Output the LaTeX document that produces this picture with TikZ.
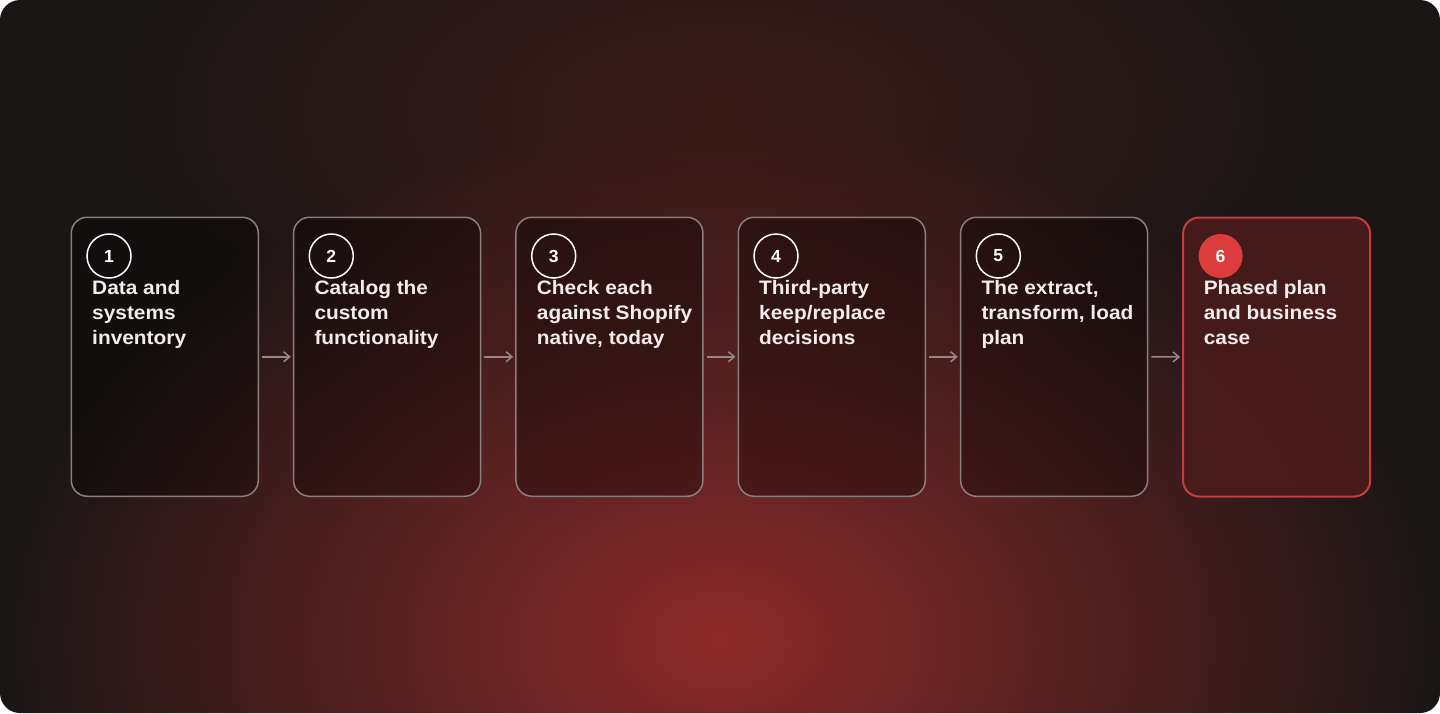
\documentclass[tikz,border=0pt]{standalone}
\usepackage{fontspec}
\setmainfont{Liberation Sans}
\newfontfamily\stepfont[FakeStretch=1.07]{Liberation Sans}
\usetikzlibrary{arrows.meta, fadings}
\tikzfading[name=glowfade, inner color=transparent!0, outer color=transparent!100]
\tikzset{
    glow/.style={path fading=glowfade, fit fading=true},
    stepbox/.style={draw=boxLine, line width=1.5pt, rounded corners=16pt, fill=black, fill opacity=0.32, text opacity=1,
        minimum width=187pt, minimum height=279pt, anchor=north west},
    lastbox/.style={stepbox, draw=lastLine, line width=2pt, fill=lastFill, fill opacity=0.9},
    badge/.style={circle, draw=white, line width=1.5pt, minimum size=44pt, inner sep=0pt, text=white,
        font=\fontsize{17.5}{17.5}\selectfont\bfseries},
    lastbadge/.style={badge, draw=none, fill=badgeRed},
    steptext/.style={anchor=north west, inner sep=0pt, align=left, text=textWhite,
        font=\stepfont\fontsize{19.5}{25}\selectfont\bfseries},
    flow/.style={draw=arrowGray, line width=1.5pt, -{Straight Barb[length=6pt, width=10pt, line width=1.5pt]}}
}
\begin{document}
\begin{tikzpicture}[x=1pt, y=-1pt]
    % Define colors
    \definecolor{bgDark}{RGB}{27,22,22}
    \definecolor{glowRed}{RGB}{142,43,43}
    \definecolor{topGlow}{RGB}{58,28,25}
    \definecolor{boxLine}{RGB}{140,126,126}
    \definecolor{arrowGray}{RGB}{150,135,135}
    \definecolor{lastLine}{RGB}{200,60,60}
    \definecolor{lastFill}{RGB}{74,27,28}
    \definecolor{badgeRed}{RGB}{220,60,60}
    \definecolor{textWhite}{RGB}{242,236,236}
    \useasboundingbox (0,0) rectangle (1440,713);
    % Background with red glows
    \fill[bgDark, rounded corners=20pt] (0,0) rectangle (1440,713);
    \begin{scope}
        \clip[rounded corners=20pt] (0,0) rectangle (1440,713);
        \fill[topGlow, glow] (720,110) ellipse (620 and 300);
        \fill[glowRed, glow] (720,640) ellipse (720 and 520);
    \end{scope}
    % Step boxes
    \node[stepbox] (b1) at (70.5,216.5) {};
    \node[stepbox] (b2) at (292.8,216.5) {};
    \node[stepbox] (b3) at (515.2,216.5) {};
    \node[stepbox] (b4) at (737.5,216.5) {};
    \node[stepbox] (b5) at (959.8,216.5) {};
    \node[lastbox] (b6) at (1182.1,216.5) {};
    % Number badges
    \node[badge] (n1) at (109,256) {1};
    \node[badge] (n2) at (331.3,256) {2};
    \node[badge] (n3) at (553.7,256) {3};
    \node[badge] (n4) at (776,256) {4};
    \node[badge] (n5) at (998.3,256) {5};
    \node[lastbadge] (n6) at (1220.6,256) {6};
    % Step labels
    \node[steptext] (t1) at (92,280) {Data and\\systems\\inventory};
    \node[steptext] (t2) at (314.3,280) {Catalog the\\custom\\functionality};
    \node[steptext] (t3) at (536.7,280) {Check each\\against Shopify\\native, today};
    \node[steptext] (t4) at (759,280) {Third-party\\keep/replace\\decisions};
    \node[steptext] (t5) at (981.3,280) {The extract,\\transform, load\\plan};
    \node[steptext] (t6) at (1203.6,280) {Phased plan\\and business\\case};
    % Connectors
    \draw[flow] ([xshift=3pt]b1.east) -- ([xshift=-2pt]b2.west);
    \draw[flow] ([xshift=3pt]b2.east) -- ([xshift=-2pt]b3.west);
    \draw[flow] ([xshift=3pt]b3.east) -- ([xshift=-2pt]b4.west);
    \draw[flow] ([xshift=3pt]b4.east) -- ([xshift=-2pt]b5.west);
    \draw[flow] ([xshift=3pt]b5.east) -- ([xshift=-2pt]b6.west);
\end{tikzpicture}
\end{document}
